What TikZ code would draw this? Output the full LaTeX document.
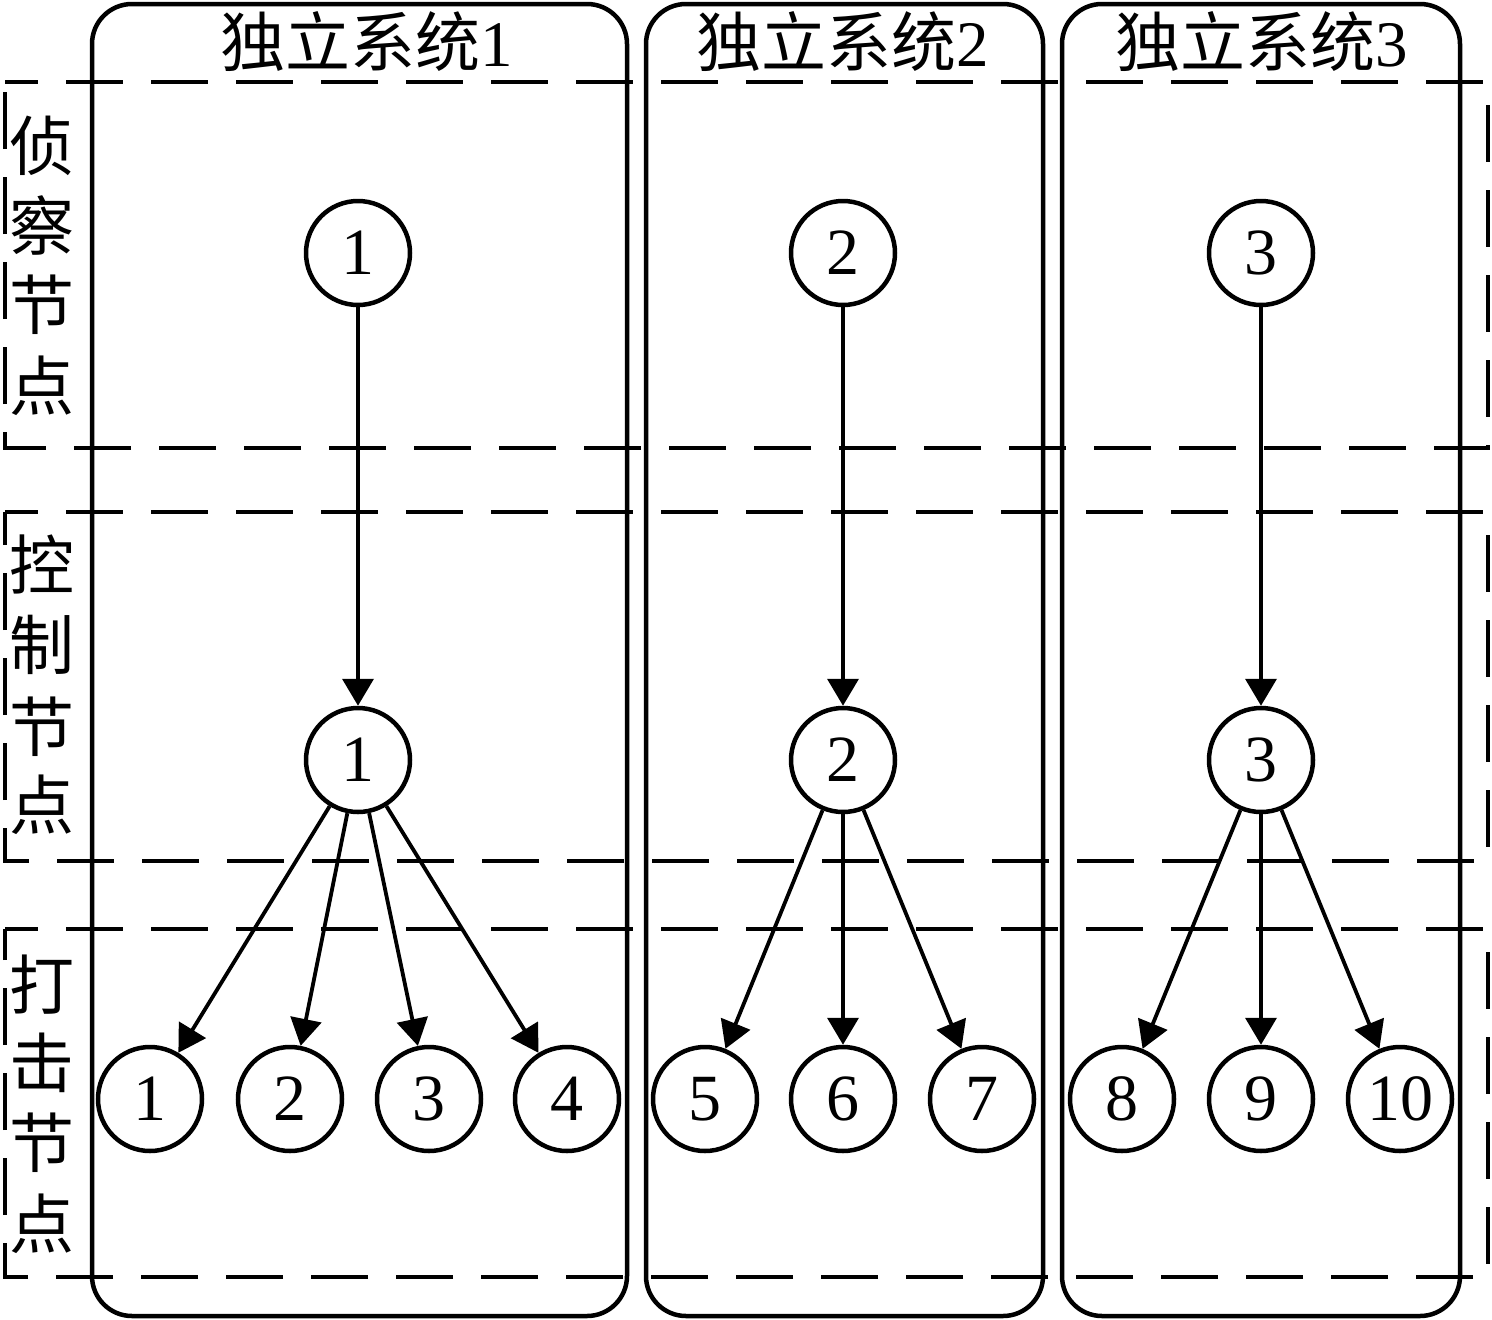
\documentclass[tikz,border=0pt]{standalone}
\usepackage{fontspec}
\setmainfont{Liberation Serif}
\newfontfamily\cjk{Noto Sans CJK SC}
\usetikzlibrary{arrows.meta}
\begin{document}
\begin{tikzpicture}[x=1pt,y=-1pt,
  band/.style={line width=4.5pt, dash pattern=on 57pt off 28pt, dash phase=24pt},
  sysbox/.style={line width=4.5pt, rounded corners=40pt},
  nd/.style={circle, draw, line width=4.5pt, minimum size=104pt, inner sep=0pt, font=\fontsize{66}{66}\selectfont},
  arr/.style={line width=3.8pt, -{Triangle[length=27pt,width=31pt]}},
  lbl/.style={font=\fontsize{65}{65}\selectfont\cjk, inner sep=0pt, anchor=base},
  ttl/.style={font=\fontsize{65}{65}\selectfont, inner sep=0pt, anchor=base}]
\useasboundingbox (0,0) rectangle (1492,1320);
% bands
\draw[band] (5,82) -- (1488,82) -- (1488,448) -- (5,448) -- cycle;
\draw[band] (5,512) -- (1488,512) -- (1488,861) -- (5,861) -- cycle;
\draw[band] (5,929) -- (1488,929) -- (1488,1277) -- (5,1277) -- cycle;
% system boxes
\draw[sysbox] (92,4) rectangle (627,1316);
\draw[sysbox] (646,4) rectangle (1043,1316);
\draw[sysbox] (1062,4) rectangle (1460,1316);
% titles
\node[ttl] (T1) at (367,66) {{\cjk 独立系统}1};
\node[ttl] (T2) at (843,66) {{\cjk 独立系统}2};
\node[ttl] (T3) at (1262,66) {{\cjk 独立系统}3};
% side labels
\node[lbl] (a1) at (42,170) {侦};
\node[lbl] (a2) at (42,250) {察};
\node[lbl] (a3) at (42,329) {节};
\node[lbl] (a4) at (42,410) {点};
\node[lbl] (b1) at (42,589) {控};
\node[lbl] (b2) at (42,669) {制};
\node[lbl] (b3) at (42,751) {节};
\node[lbl] (b4) at (42,829) {点};
\node[lbl] (c1) at (42,1009) {打};
\node[lbl] (c2) at (42,1087) {击};
\node[lbl] (c3) at (42,1167) {节};
\node[lbl] (c4) at (42,1248) {点};
% reconnaissance nodes
\node[nd] (r1) at (358,253) {1};
\node[nd] (r2) at (843,253) {2};
\node[nd] (r3) at (1261,253) {3};
% control nodes
\node[nd] (k1) at (358,760) {1};
\node[nd] (k2) at (843,760) {2};
\node[nd] (k3) at (1261,760) {3};
% strike nodes
\node[nd] (s1) at (150,1099) {1};
\node[nd] (s2) at (290,1099) {2};
\node[nd] (s3) at (429,1099) {3};
\node[nd] (s4) at (567,1099) {4};
\node[nd] (s5) at (705,1099) {5};
\node[nd] (s6) at (843,1099) {6};
\node[nd] (s7) at (982,1099) {7};
\node[nd] (s8) at (1122,1099) {8};
\node[nd] (s9) at (1261,1099) {9};
\node[nd] (s10) at (1400,1099) {10};
% arrows
\draw[arr] (r1) -- (k1);
\draw[arr] (r2) -- (k2);
\draw[arr] (r3) -- (k3);
\draw[arr] (k1) -- (s1);
\draw[arr] (k1) -- (s2);
\draw[arr] (k1) -- (s3);
\draw[arr] (k1) -- (s4);
\draw[arr] (k2) -- (s5);
\draw[arr] (k2) -- (s6);
\draw[arr] (k2) -- (s7);
\draw[arr] (k3) -- (s8);
\draw[arr] (k3) -- (s9);
\draw[arr] (k3) -- (s10);
\end{tikzpicture}
\end{document}
